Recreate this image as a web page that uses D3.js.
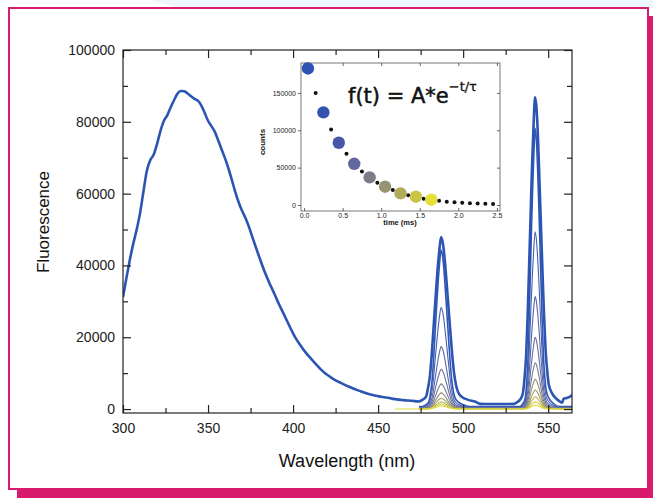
<!DOCTYPE html>
<html>
<head>
<meta charset="utf-8">
<title>Fluorescence spectra</title>
<script src="https://cdn.jsdelivr.net/npm/d3@7"></script>
<style>
  body { margin: 0; background: #fff; }
  svg { display: block; font-family: "Liberation Sans", Arial, sans-serif; }
</style>
</head>
<body>
<script>
// broad emission of the thick spectrum (nm, counts)
var bgNm  = [300,302,304,306,308,310,312,314,316,318,320,322,324,326,328,330,332,334,336,338,340,342,344,346,348,350,352,354,356,358,360,362,364,366,368,370,372,374,376,378,380,383,386,389,392,395,398,401,404,407,410,413,416,419,422,425,428,431,434,437,440,443,446,449,452,455,458,461,464,467,470];
var bgVal = [31200,36500,41500,46000,49900,54500,60500,66300,69300,70800,73800,77400,80200,81800,84000,86000,87800,88600,88500,87900,87100,86400,85900,84600,82500,80300,78800,77200,74800,72300,69800,67000,63800,60500,57600,55200,53200,50800,48000,45200,42500,38600,35200,32100,28900,26000,23000,20200,18000,16000,14300,12700,11200,9900,8900,8000,7300,6600,6000,5400,4900,4400,4000,3700,3400,3200,2900,2700,2500,2400,2300];
var midNm  = [510,515,520,525,530];
var midVal = [1450,1400,1400,1400,1450];
var tailNm  = [559,561,563,564];
var tailVal = [2900,3100,3500,3900];

// shape of the two sharp lines (offset from centre in nm, fraction of height)
var peak1Centre = 487, peak2Centre = 542.3;
var profVal   = [0,0.01,0.03,0.08,0.15,0.28,0.45,0.62,0.78,0.91,1,0.96,0.86,0.72,0.57,0.42,0.28,0.17,0.1,0.06,0.03,0.01,0];
var prof1Off  = [-11,-9,-7.2,-6.3,-5.4,-4.5,-3.6,-2.7,-1.8,-0.9,0,0.9,1.8,2.7,3.6,4.5,5.4,6.3,7.2,8.1,10,13.5,17];
var prof2Off  = [-9,-7.2,-5.8,-5,-4.3,-3.6,-2.9,-2.2,-1.45,-0.72,0,0.72,1.45,2.2,2.9,3.6,4.3,5,5.8,6.5,8.1,11,14];
var thick1Off = [-13,-11,-8.8,-7.7,-6.6,-5.5,-4.4,-3.3,-2.2,-1.1,0,1.1,2.2,3.3,4.4,5.5,6.6,7.7,8.8,9.9,12,16,20];
var thick2Off = [-11,-8.8,-7.2,-6.2,-5.3,-4.4,-3.5,-2.6,-1.75,-0.9,0,0.9,1.75,2.6,3.5,4.4,5.3,6.2,7.2,8,10,13,16];

// thick spectrum: peak heights and local baseline
var thickPeak1 = 47900, thickPeak2 = 86800, thickBase1 = 2100, thickBase2 = 1800;

// family of gated spectra, blue -> yellow
var famPeak1 = [44300,28300,17400,11100,7000,4500,3000,2000,1400,900];
var famPeak2 = [78200,49400,31300,20000,12900,8300,5300,3400,2000,1100];
var famBase  = [700,500,380,280,200,140,90,50,20,0];
var famStart = [474,474,474,474,474,474,474,474,474,460];
var famColor = ["#3157b6","#4660b0","#5866a7","#6a6f9c","#7c7c8e","#8f8d7c","#a4a066","#bab553","#d0c944","#e2db38"];

// inset decay
var pulseT      = [0.05,0.25,0.45,0.65,0.85,1.05,1.25,1.45,1.65];
var pulseCounts = [182700,124000,83300,55200,37000,24500,15600,11100,7100];
var pulseColor  = ["#2f51b4","#3452b0","#4657aa","#62689d","#7d7d87","#979472","#b0ab5a","#cbc445","#e6df3a"];
var decayT      = [0.15,0.35,0.55,0.75,0.95,1.15,1.35,1.55,1.75,1.85,1.95,2.05,2.15,2.25,2.35,2.45];
var decayCounts = [150000,101000,68600,45000,29800,20000,13000,8400,5700,4500,3700,3000,2500,2000,1600,1300];

var xTicks = [300,350,400,450,500,550];
var yTicks = [0,20000,40000,60000,80000,100000];
var insetXTicks = [0,0.5,1,1.5,2,2.5];
var insetYTicks = [0,50000,100000,150000];

var W = 653, H = 498;
var svg = d3.select("body").append("svg").attr("width", W).attr("height", H);

// frame with pink drop shadow
svg.append("path").attr("d", "M150,0 L653,0 L653,8 L180,8 Z").attr("fill", "#edf6fb");
svg.append("rect").attr("x", 17).attr("y", 16).attr("width", 640).attr("height", 490).attr("fill", "#d81b6c");
svg.append("rect").attr("x", 9).attr("y", 8).attr("width", 639).attr("height", 481)
  .attr("fill", "#fff").attr("stroke", "#d81b6c").attr("stroke-width", 2);

var L = 123, R = 572, T = 50, B = 413;
var x = d3.scaleLinear().domain([300, 564]).range([L, R]);
var y = d3.scaleLinear().domain([-1100, 100000]).range([B, T]);

svg.append("clipPath").attr("id", "clip").append("rect")
  .attr("x", L).attr("y", T).attr("width", R - L).attr("height", B - T);

function peakPoints(centre, offs, height, base) {
  return offs.map(function(o, i) { return [centre + o, base + (height - base) * profVal[i]]; });
}

var thick = bgNm.map(function(n, i) { return [n, bgVal[i]]; })
  .concat(peakPoints(peak1Centre, thick1Off, thickPeak1, thickBase1))
  .concat(midNm.map(function(n, i) { return [n, midVal[i]]; }))
  .concat(peakPoints(peak2Centre, thick2Off, thickPeak2, thickBase2))
  .concat(tailNm.map(function(n, i) { return [n, tailVal[i]]; }));

var line = d3.line().x(function(d) { return x(d[0]); }).y(function(d) { return y(d[1]); })
  .curve(d3.curveMonotoneX);

var g = svg.append("g").attr("clip-path", "url(#clip)");

// blue first, yellow last so the yellow one lies on the baseline
for (var k = 0; k < famPeak1.length; k++) {
  var pts = [[famStart[k], famBase[k]]]
    .concat(peakPoints(peak1Centre, prof1Off, famPeak1[k], famBase[k]))
    .concat(peakPoints(peak2Centre, prof2Off, famPeak2[k], famBase[k]))
    .concat([[564, famBase[k]]]);
  g.append("path").attr("d", line(pts)).attr("fill", "none")
    .attr("stroke", famColor[k]).attr("stroke-width", k === 0 ? 1.6 : 1.1);
}
g.append("path").attr("d", line(thick)).attr("fill", "none")
  .attr("stroke", "#2c55b3").attr("stroke-width", 2.6).attr("stroke-linejoin", "round");

// axes, Origin style: ticks inside on all four sides
function styleAxis(sel, fs) {
  sel.select(".domain").remove();
  sel.selectAll("line").attr("stroke", "#222").attr("stroke-width", 1.2);
  sel.selectAll("text").attr("fill", "#222").attr("font-size", fs);
}
var xMinor = [325,375,425,475,525];
var yMinor = [10000,30000,50000,70000,90000];

svg.append("g").attr("transform", "translate(0," + B + ")")
  .call(d3.axisBottom(x).tickValues(xTicks).tickSize(-8).tickPadding(10).tickFormat(d3.format("d")))
  .call(styleAxis, 14);
svg.append("g").attr("transform", "translate(0," + B + ")")
  .call(d3.axisBottom(x).tickValues(xMinor).tickSize(-5).tickFormat(""))
  .call(styleAxis, 14);
svg.append("g").attr("transform", "translate(0," + T + ")")
  .call(d3.axisTop(x).tickValues(xTicks).tickSize(-8).tickFormat(""))
  .call(styleAxis, 14);
svg.append("g").attr("transform", "translate(0," + T + ")")
  .call(d3.axisTop(x).tickValues(xMinor).tickSize(-5).tickFormat(""))
  .call(styleAxis, 14);
svg.append("g").attr("transform", "translate(" + L + ",0)")
  .call(d3.axisLeft(y).tickValues(yTicks).tickSize(-8).tickPadding(8).tickFormat(d3.format("d")))
  .call(styleAxis, 14);
svg.append("g").attr("transform", "translate(" + L + ",0)")
  .call(d3.axisLeft(y).tickValues(yMinor).tickSize(-5).tickFormat(""))
  .call(styleAxis, 14);
svg.append("g").attr("transform", "translate(" + R + ",0)")
  .call(d3.axisRight(y).tickValues(yTicks).tickSize(-8).tickFormat(""))
  .call(styleAxis, 14);
svg.append("g").attr("transform", "translate(" + R + ",0)")
  .call(d3.axisRight(y).tickValues(yMinor).tickSize(-5).tickFormat(""))
  .call(styleAxis, 14);
svg.append("rect").attr("x", L).attr("y", T).attr("width", R - L).attr("height", B - T)
  .attr("fill", "none").attr("stroke", "#222").attr("stroke-width", 1.2);

svg.append("text").attr("x", 347).attr("y", 467).attr("text-anchor", "middle")
  .attr("font-size", 18).attr("fill", "#111").text("Wavelength (nm)");
svg.append("text").attr("transform", "translate(49,222) rotate(-90)").attr("text-anchor", "middle")
  .attr("font-size", 17).attr("fill", "#111").text("Fluorescence");

// inset
var iL = 301, iR = 500, iT = 63, iB = 211;
var ix = d3.scaleLinear().domain([-0.04, 2.54]).range([iL, iR]);
var iy = d3.scaleLinear().domain([-8000, 190000]).range([iB, iT]);
var ins = svg.append("g");
ins.append("rect").attr("x", iL).attr("y", iT).attr("width", iR - iL).attr("height", iB - iT)
  .attr("fill", "#fff").attr("stroke", "#555").attr("stroke-width", 0.8);

function styleInset(sel) {
  sel.select(".domain").remove();
  sel.selectAll("line").attr("stroke", "#444").attr("stroke-width", 0.8);
  sel.selectAll("text").attr("fill", "#222").attr("font-size", 7);
}
ins.append("g").attr("transform", "translate(0," + iB + ")")
  .call(d3.axisBottom(ix).tickValues(insetXTicks).tickSize(-3).tickPadding(2).tickFormat(d3.format(".1f")))
  .call(styleInset);
ins.append("g").attr("transform", "translate(0," + iT + ")")
  .call(d3.axisTop(ix).tickValues(insetXTicks).tickSize(-3).tickFormat(""))
  .call(styleInset);
ins.append("g").attr("transform", "translate(" + iL + ",0)")
  .call(d3.axisLeft(iy).tickValues(insetYTicks).tickSize(3).tickPadding(2).tickFormat(d3.format("d")))
  .call(styleInset);
ins.append("g").attr("transform", "translate(" + iR + ",0)")
  .call(d3.axisRight(iy).tickValues(insetYTicks).tickSize(-3).tickFormat(""))
  .call(styleInset);

ins.selectAll("circle.decay").data(decayT).enter().append("circle").attr("class", "decay")
  .attr("cx", function(d) { return ix(d); })
  .attr("cy", function(d, i) { return iy(decayCounts[i]); })
  .attr("r", 2).attr("fill", "#111");
ins.selectAll("circle.pulse").data(pulseT).enter().append("circle").attr("class", "pulse")
  .attr("cx", function(d) { return ix(d); })
  .attr("cy", function(d, i) { return iy(pulseCounts[i]); })
  .attr("r", 6.2).attr("fill", function(d, i) { return pulseColor[i]; });

ins.append("text").attr("x", 400).attr("y", 225).attr("text-anchor", "middle")
  .attr("font-size", 7.5).attr("font-weight", "bold").attr("fill", "#111").text("time (ms)");
ins.append("text").attr("transform", "translate(265,142) rotate(-90)").attr("text-anchor", "middle")
  .attr("font-size", 8).attr("font-weight", "bold").attr("fill", "#111").text("counts");

var formula = ins.append("text").attr("x", 348).attr("y", 103)
  .attr("font-family", "'DejaVu Sans', sans-serif").attr("font-size", 21)
  .attr("fill", "#111").attr("stroke", "#111").attr("stroke-width", 0.5);
formula.append("tspan").text("f(t) = A*e");
formula.append("tspan").attr("dy", -12).attr("font-size", 13).attr("stroke-width", 0.3).text("\u2212t/\u03c4");
</script>
</body>
</html>
